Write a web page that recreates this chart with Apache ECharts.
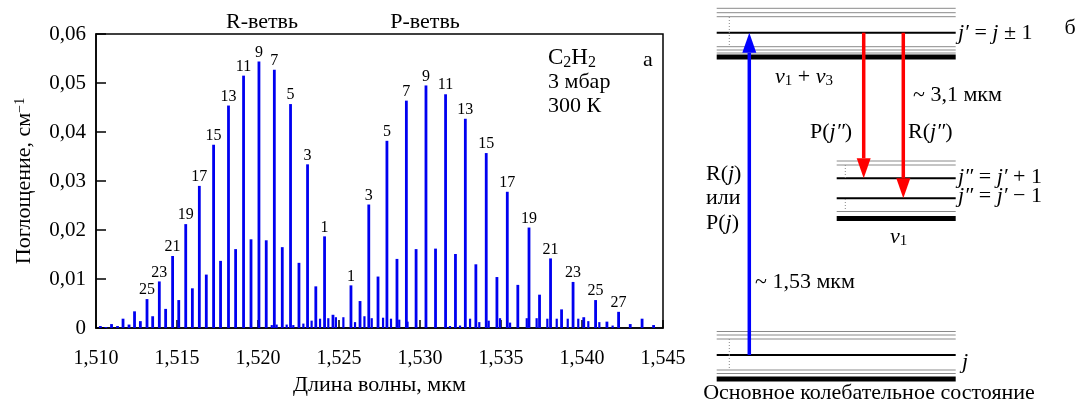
<!DOCTYPE html>
<html>
<head>
<meta charset="utf-8">
<script src="https://cdn.jsdelivr.net/npm/echarts@6/dist/echarts.min.js"></script>
<style>
html,body{margin:0;padding:0;background:#fff;}
#c{width:1081px;height:401px;}
</style>
</head>
<body>
<div id="c"></div>
<script>
// ---------- Spectrum data (wavelength, мкм ; absorption, см^-1) ----------
const rJ   = [33,32,31,30,29,28,27,26,25,24,23,22,21,20,19,18,17,16,15,14,13,12,11,10,9,8,7,6,5,4,3,2,1,0];
const rWl  = [1.51025,1.51059,1.51094,1.51131,1.51165,1.51202,1.51236,1.51272,1.51313,1.51348,1.51389,1.51428,1.51471,1.51509,1.51552,1.51593,1.51636,1.51679,1.51724,1.51767,1.51816,1.51860,1.51909,1.51955,1.52004,1.52049,1.52099,1.52148,1.52199,1.52251,1.52304,1.52355,1.52409,1.52461];
const rAbs = [0.0004,0.0002,0.0008,0.0004,0.0019,0.0007,0.0034,0.0014,0.0059,0.0024,0.0095,0.0039,0.0147,0.0057,0.0212,0.0081,0.0290,0.0109,0.0374,0.0137,0.0454,0.0161,0.0515,0.0181,0.0544,0.0179,0.0527,0.0165,0.0457,0.0133,0.0334,0.0085,0.0187,0.0027];

const pJ   = [1,2,3,4,5,6,7,8,9,10,11,12,13,14,15,16,17,18,19,20,21,22,23,24,25,26,27,28,29,30];
const pWl  = [1.52572,1.52628,1.52682,1.52739,1.52794,1.52856,1.52914,1.52974,1.53035,1.53094,1.53156,1.53217,1.53278,1.53343,1.53407,1.53473,1.53537,1.53602,1.53671,1.53736,1.53804,1.53872,1.53943,1.54009,1.54082,1.54152,1.54224,1.54296,1.54369,1.54440];
const pAbs = [0.0087,0.0055,0.0252,0.0105,0.0382,0.0141,0.0464,0.0161,0.0495,0.0162,0.0477,0.0151,0.0427,0.0130,0.0357,0.0104,0.0278,0.0088,0.0205,0.0068,0.0142,0.0038,0.0094,0.0022,0.0057,0.0013,0.0033,0.0008,0.0019,0.0006];

// weak (hot-band) lines
const hotWl  = [1.52085,1.52115,1.52177,1.52218,1.52280,1.52331,1.52383,1.52434,1.52481,1.52527,1.52599,1.52657,1.52702,1.52772,1.52821,1.52872,1.52923,1.53185,1.53247,1.53309,1.53366,1.53424,1.53494,1.53556,1.53659,1.53720,1.53786,1.53844,1.53912,1.53977,1.54039,1.54107,1.54189];
const hotAbs = [0.0006,0.0007,0.0007,0.0006,0.0009,0.0015,0.0019,0.0020,0.0022,0.0022,0.0012,0.0024,0.0020,0.0021,0.0019,0.0017,0.0013,0.0004,0.0005,0.0019,0.0012,0.0015,0.0020,0.0011,0.0020,0.0020,0.0019,0.0019,0.0019,0.0019,0.0014,0.0012,0.0005];

const rLabelMax = 25, pLabelMax = 27;
const xTicks = {min:1.510, max:1.545, step:0.005};
const yTicks = {min:0, max:0.06, step:0.01};

// ---------- Energy-level diagram (schematic units: px inside the right panel) ----------
const greyLevels  = [[26.7,265.7,8.3],[26.7,265.7,12.7],[26.7,265.7,16.7],[26.7,265.7,46.7],[26.7,265.7,50],[26.7,265.7,53],
                     [146.7,265.7,161],[146.7,265.7,165],[146.7,265.7,211.5],
                     [26.7,265.7,331.5],[26.7,265.7,335],[26.7,265.7,339],[26.7,265.7,370],[26.7,265.7,373.5]];
const blackLevels = [[26.7,265.7,32.7],[146.7,265.7,178.3],[146.7,265.7,198.3],[26.7,265.7,355]];
const thickLevels = [[26.7,265.7,57],[146.7,265.7,218.5],[26.7,265.7,379]];
const dottedLinks = [[39.3,17,46.5],[155.3,165,178],[155.3,199,211],[39.3,339,355],[39.3,355,370]];
const blueArrows  = [[59.3,355,32.7]];
const redArrows   = [[173.7,32.7,178.3],[213.3,32.7,198.3]];

const FONT = 'Liberation Serif';
const chart = echarts.init(document.getElementById('c'));

function peakData(wl, ab, js, maxLab){
  return wl.map((w,i)=>({
    value:[w, ab[i]],
    label:{show: (js[i] % 2 === 1 && js[i] <= maxLab), formatter: String(js[i])}
  }));
}
const peakLabel = {position:'top', distance:1, color:'#000', fontFamily:FONT, fontSize:16};
const BLUE = '#0000f0';

function levelSeries(data, color, width){
  return {
    type:'custom', xAxisIndex:1, yAxisIndex:1, silent:true,
    data: data,
    renderItem:(p, api)=>{
      const a = api.coord([api.value(0), api.value(2)]);
      const b = api.coord([api.value(1), api.value(2)]);
      return {type:'line', shape:{x1:a[0],y1:a[1],x2:b[0],y2:b[1]}, style:{stroke:color, lineWidth:width}};
    }
  };
}
function arrowSeries(data, color){
  return {
    type:'custom', xAxisIndex:1, yAxisIndex:1, silent:true, z:5,
    data: data,
    renderItem:(p, api)=>{
      const s = api.coord([api.value(0), api.value(1)]);
      const e = api.coord([api.value(0), api.value(2)]);
      const dir = e[1] > s[1] ? 1 : -1;
      const hl = 20, hw = 7;
      const base = e[1] - dir*hl;
      return {type:'group', children:[
        {type:'line', shape:{x1:s[0],y1:s[1],x2:e[0],y2:base}, style:{stroke:color, lineWidth:3.5}},
        {type:'polygon', shape:{points:[[e[0],e[1]],[e[0]-hw,base],[e[0]+hw,base]]}, style:{fill:color}}
      ]};
    }
  };
}
function dottedSeries(data){
  return {
    type:'custom', xAxisIndex:1, yAxisIndex:1, silent:true,
    data: data,
    renderItem:(p, api)=>{
      const a = api.coord([api.value(0), api.value(1)]);
      const b = api.coord([api.value(0), api.value(2)]);
      return {type:'line', shape:{x1:a[0],y1:a[1],x2:b[0],y2:b[1]}, style:{stroke:'#888', lineWidth:1, lineDash:[1,2]}};
    }
  };
}

const DS = 22;
const rich = {
  i:{fontFamily:FONT, fontStyle:'italic', fontSize:DS},
  s:{fontFamily:FONT, fontSize:15, padding:[9,0,0,0]},
  s2:{fontFamily:FONT, fontSize:16, padding:[9,0,0,0]}
};
function richText(x, y, text){
  return {type:'text', x:x, y:y, style:{text:text, rich:rich, fontFamily:FONT, fontSize:DS, fill:'#000', verticalAlign:'middle'}};
}
function plain(x, y, text, size, align){
  return {type:'text', x:x, y:y, style:{text:text, fontFamily:FONT, fontSize:size, fill:'#000', align:align||'left', verticalAlign:'middle'}};
}

const option = {
  backgroundColor:'#fff',
  animation:false,
  grid:[
    {left:96, top:34, width:567, height:302, show:true, borderColor:'#000', borderWidth:1.5, containLabel:false},
    {left:690, top:0, width:391, height:401, show:false}
  ],
  xAxis:[
    {type:'value', gridIndex:0, min:xTicks.min, max:xTicks.max, interval:xTicks.step,
     axisLine:{show:true, lineStyle:{color:'#000', width:1.5}},
     axisTick:{show:true, inside:true, length:8, lineStyle:{color:'#000', width:1.5}},
     axisLabel:{color:'#000', fontFamily:FONT, fontSize:20, margin:21,
       formatter:v=>v.toFixed(3).replace('.', ',')},
     splitLine:{show:false},
     name:'Длина волны, мкм', nameLocation:'middle', nameGap:46,
     nameTextStyle:{color:'#000', fontFamily:FONT, fontSize:22}},
    {type:'value', gridIndex:1, min:0, max:391, show:false}
  ],
  yAxis:[
    {type:'value', gridIndex:0, min:yTicks.min, max:yTicks.max, interval:yTicks.step,
     axisLine:{show:true, lineStyle:{color:'#000', width:1.5}},
     axisTick:{show:true, inside:true, length:10, lineStyle:{color:'#000', width:1.5}},
     axisLabel:{color:'#000', fontFamily:FONT, fontSize:21, margin:10,
       formatter:v=> v===0 ? '0' : v.toFixed(2).replace('.', ',')},
     splitLine:{show:false},
     name:'Поглощение, см{sup|−1}', nameLocation:'middle', nameGap:61, nameRotate:90,
     nameTextStyle:{color:'#000', fontFamily:FONT, fontSize:22,
       rich:{sup:{fontFamily:FONT, fontSize:14, verticalAlign:'top', lineHeight:22, padding:[0,0,10,0]}}}},
    {type:'value', gridIndex:1, min:0, max:401, inverse:true, show:false}
  ],
  series:[
    {type:'bar', name:'R', data:peakData(rWl, rAbs, rJ, rLabelMax), barWidth:2.8, barGap:'-100%',
     itemStyle:{color:BLUE}, label:peakLabel, silent:true},
    {type:'bar', name:'P', data:peakData(pWl, pAbs, pJ, pLabelMax), barWidth:2.8, barGap:'-100%',
     itemStyle:{color:BLUE}, label:peakLabel, silent:true},
    {type:'bar', name:'hot', data:hotWl.map((w,i)=>[w, hotAbs[i]]), barWidth:2.2, barGap:'-100%',
     itemStyle:{color:BLUE}, silent:true},
    levelSeries(greyLevels, '#8a8a8a', 1),
    levelSeries(blackLevels, '#000', 2),
    levelSeries(thickLevels, '#000', 5),
    dottedSeries(dottedLinks),
    arrowSeries(blueArrows, '#0000ff'),
    arrowSeries(redArrows, '#ff0000')
  ],
  graphic:[
    // left panel annotations
    plain(262, 22, 'R-ветвь', 22, 'center'),
    plain(425, 22, 'P-ветвь', 22, 'center'),
    {type:'text', x:548, y:58, style:{text:'C{s2|2}H{s2|2}', rich:rich, fontFamily:FONT, fontSize:23, fill:'#000', verticalAlign:'middle'}},
    plain(548, 82, '3 мбар', 22),
    plain(548, 106, '300 К', 22),
    plain(648, 60, 'а', 22, 'center'),
    // right panel annotations
    plain(1070, 28, 'б', 22, 'center'),
    richText(958, 33, '{i|j′} = {i|j} ± 1'),
    richText(775, 77, '{i|ν}{s|1} + {i|ν}{s|3}'),
    plain(913, 95, '~ 3,1 мкм', 22),
    richText(810, 132, 'P({i|j″})'),
    richText(908, 132, 'R({i|j″})'),
    richText(958, 177, '{i|j″} = {i|j′} + 1'),
    richText(958, 196, '{i|j″} = {i|j′} − 1'),
    richText(890, 237, '{i|ν}{s|1}'),
    richText(706, 174, 'R({i|j})'),
    plain(706, 198, 'или', 22),
    richText(706, 223, 'P({i|j})'),
    plain(755, 282, '~ 1,53 мкм', 22),
    richText(962, 362, '{i|j}'),
    plain(869, 393, 'Основное колебательное состояние', 22, 'center')
  ]
};
chart.setOption(option);
</script>
</body>
</html>
